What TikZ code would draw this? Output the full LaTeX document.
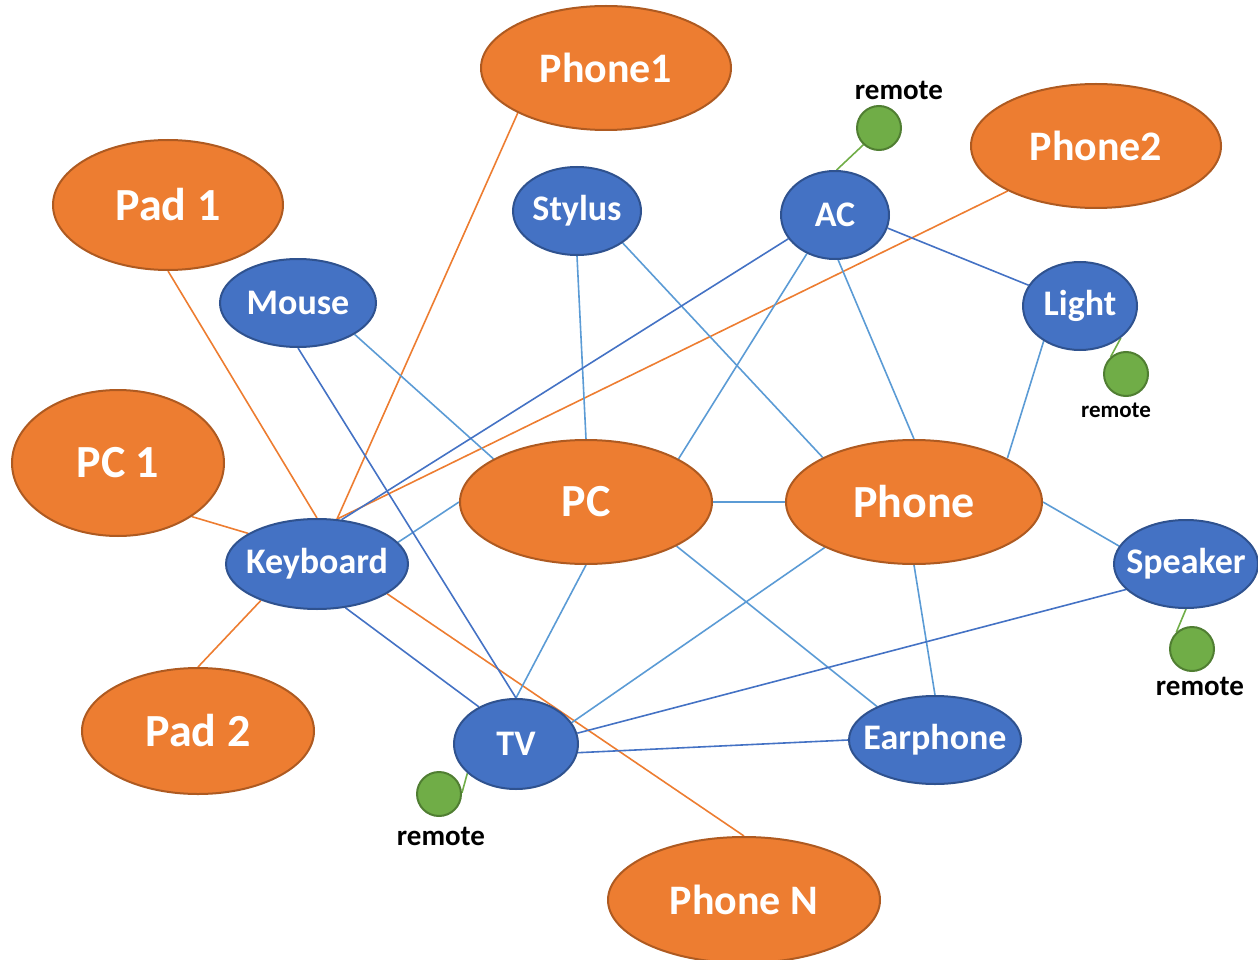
\documentclass[tikz,border=0pt]{standalone}
\usepackage{fontspec}
\setmainfont{Carlito}
\usepackage{tikz}
\usetikzlibrary{shapes.geometric, backgrounds}
\definecolor{devOrange}{HTML}{ED7D31}
\definecolor{orangeEdge}{HTML}{AE5A21}
\definecolor{devBlue}{HTML}{4472C4}
\definecolor{blueEdge}{HTML}{2F528F}
\definecolor{lineBlue}{HTML}{5B9BD5}
\definecolor{devGreen}{HTML}{70AD47}
\definecolor{greenEdge}{HTML}{507E32}

\begin{document}
\begin{tikzpicture}[
    x=1pt, y=-1pt,
    onode/.style={ellipse, draw=orangeEdge, line width=2pt, fill=devOrange, text=white,
                  inner sep=0pt, font=\bfseries\fontsize{42}{48}\selectfont},
    bignode/.style={onode, font=\bfseries\fontsize{46}{52}\selectfont},
    bnode/.style={ellipse, draw=blueEdge, line width=2pt, fill=devBlue, text=white,
                  inner sep=0pt, font=\bfseries\fontsize{36}{40}\selectfont},
    widenode/.style={bnode, inner xsep=-13pt},
    remote/.style={circle, draw=greenEdge, line width=2pt, fill=devGreen,
                   minimum size=44pt, inner sep=0pt},
    tag/.style={font=\bfseries\fontsize{29}{32}\selectfont},
    olink/.style={line width=1.6pt, devOrange},
    blink/.style={line width=1.6pt, lineBlue},
    dlink/.style={line width=1.6pt, devBlue},
    glink/.style={line width=1.6pt, devGreen},
  ]
    \useasboundingbox (0,0) rectangle (1258,960);
    % outer devices
    \node[onode, minimum width=250pt, minimum height=124pt] (phone1) at (606,68) {Phone1};
    \node[onode, minimum width=250pt, minimum height=124pt] (phone2) at (1096,146) {Phone2};
    \node[bignode, minimum width=230pt, minimum height=130pt] (pad1) at (168,205) {Pad 1};
    \node[bignode, minimum width=212pt, minimum height=146pt] (pc1) at (118,463) {PC 1};
    \node[bignode, minimum width=232pt, minimum height=126pt] (pad2) at (198,731) {Pad 2};
    \node[onode, minimum width=272pt, minimum height=126pt] (phoneN) at (744,900) {Phone N};
    % hubs
    \node[bignode, minimum width=252pt, minimum height=124pt] (pc) at (586,502) {PC};
    \node[bignode, minimum width=256pt, minimum height=124pt] (phone) at (914,502) {Phone};
    % peripherals
    \node[bnode, minimum width=128pt, minimum height=88pt] (stylus) at (577,211) {Stylus};
    \node[bnode, minimum width=108pt, minimum height=88pt] (ac) at (835,215) {AC};
    \node[bnode, minimum width=156pt, minimum height=88pt] (mouse) at (298,303) {Mouse};
    \node[bnode, minimum width=114pt, minimum height=88pt] (light) at (1080,306) {Light};
    \node[widenode, minimum width=182pt, minimum height=90pt] (kbd) at (317,564) {Keyboard};
    \node[widenode, minimum width=144pt, minimum height=88pt] (speaker) at (1186,564) {Speaker};
    \node[bnode, minimum width=124pt, minimum height=90pt] (tv) at (516,744) {TV};
    \node[widenode, minimum width=172pt, minimum height=88pt] (earphone) at (935,740) {Earphone};
    % remotes
    \node[remote] (acRem) at (879,128) {};
    \node[tag] (acTag) at (899,90) {remote};
    \node[remote] (lightRem) at (1126,374) {};
    \node[tag, font=\bfseries\fontsize{23}{26}\selectfont] (lightTag) at (1116,410) {remote};
    \node[remote] (spkRem) at (1192,649) {};
    \node[tag] (spkTag) at (1200,686) {remote};
    \node[remote] (tvRem) at (439,794) {};
    \node[tag] (tvTag) at (441,836) {remote};

    \begin{scope}[on background layer]
      \draw[olink] (pad1.south) -- (kbd.north);
      \draw[olink] (phone1.207) -- (kbd.66);
      \draw[olink] (phone2.207) -- (kbd.66);
      \draw[olink] (pc1.-36) -- (kbd.156);
      \draw[olink] (pad2.north) -- (kbd.213);
      \draw[olink] (phoneN.north) -- (kbd.-23);

      \draw[blink] (stylus.south) -- (pc.north);
      \draw[blink] (stylus.-35) -- (phone.154);
      \draw[blink] (ac.234) -- (pc.25);
      \draw[blink] (ac.-86) -- (phone.north);
      \draw[blink] (light.224) -- (phone.25);
      \draw[blink] (mouse.-29) -- (pc.155);
      \draw[blink] (kbd.15) -- (pc.west);
      \draw[blink] (pc.east) -- (phone.west);
      \draw[blink] (phone.east) -- (speaker.165);
      \draw[blink] (pc.south) -- (tv.north);
      \draw[blink] (pc.-26) -- (earphone.150);
      \draw[blink] (phone.207) -- (tv.21);
      \draw[blink] (phone.south) -- (earphone.north);

      \draw[dlink] (ac.207) -- (kbd.61);
      \draw[dlink] (ac.-14) -- (light.158);
      \draw[dlink] (mouse.south) -- (tv.north);
      \draw[dlink] (kbd.-57) -- (tv.135);
      \draw[dlink] (speaker.203) -- (tv.10);
      \draw[dlink] (tv.-8) -- (earphone.west);

      \draw[glink] (acRem.227) -- (ac.88);
      \draw[glink] (lightRem.132) -- (light.-38);
      \draw[glink] (spkRem.133) -- (speaker.south);
      \draw[glink] (tvRem.3) -- (tv.211);
    \end{scope}
  \end{tikzpicture}
\end{document}
